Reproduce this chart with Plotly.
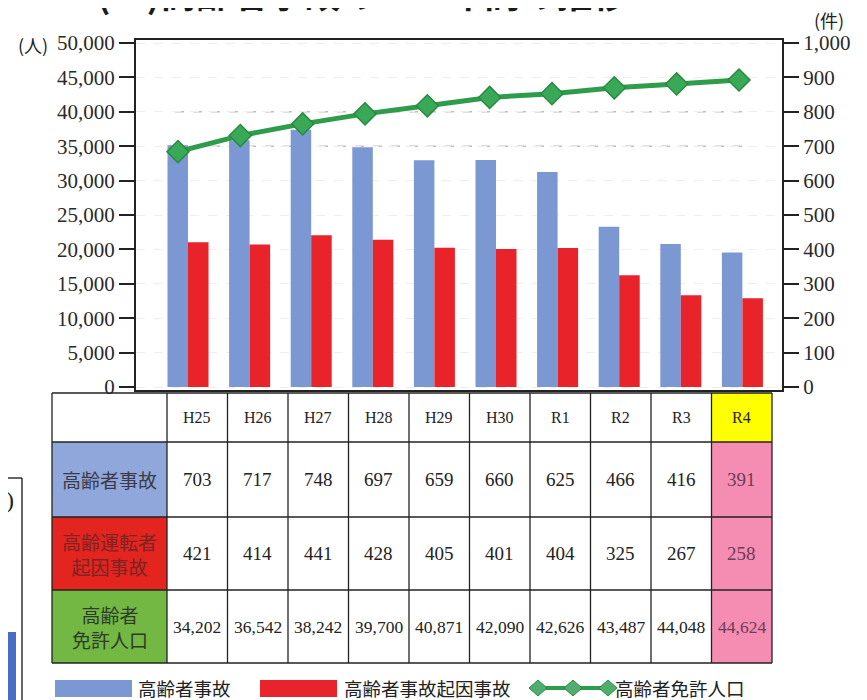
import plotly.graph_objects as go

W, H = 867, 700
BODY = 8  # default page margin around the plot div

years = ['H25', 'H26', 'H27', 'H28', 'H29', 'H30', 'R1', 'R2', 'R3', 'R4']
elderly_accidents = [703, 717, 748, 697, 659, 660, 625, 466, 416, 391]
elderly_driver_accidents = [421, 414, 441, 428, 405, 401, 404, 325, 267, 258]
elderly_licence_pop = [34202, 36542, 38242, 39700, 40871, 42090, 42626, 43487, 44048, 44624]

row_labels = ['高齢者事故', '高齢運転者<br>起因事故', '高齢者<br>免許人口']
legend_labels = ['高齢者事故', '高齢者事故起因事故', '高齢者免許人口']

BLUE_BAR = '#7b98d3'
RED_BAR = '#e8232a'
GREEN_LINE = '#2f9c4b'
CELL_BLUE = '#8fa7da'
CELL_RED = '#e3241f'
CELL_GREEN = '#72b843'
CELL_PINK = '#f58db2'
CELL_YELLOW = '#ffff00'
INK = '#222222'
SERIF = 'Liberation Serif'
SANS_JP = 'Noto Sans CJK JP'


def px(x):
    return (x - BODY) / W


def py(y):
    return 1 - (y - BODY) / H


idx = list(range(len(years)))

fig = go.Figure()
fig.add_trace(go.Bar(x=idx, y=elderly_accidents, marker=dict(color=BLUE_BAR, line=dict(width=0)),
                     name=legend_labels[0], xaxis='x', yaxis='y'))
fig.add_trace(go.Bar(x=idx, y=elderly_driver_accidents, marker=dict(color=RED_BAR, line=dict(width=0)),
                     name=legend_labels[1], xaxis='x', yaxis='y'))
fig.add_trace(go.Scatter(
    x=idx, y=elderly_licence_pop, mode='lines+markers', name=legend_labels[2],
    line=dict(color=GREEN_LINE, width=5),
    marker=dict(symbol='diamond', size=17, color='#3aa957', line=dict(color='#2a8a43', width=1.5)),
    xaxis='x2', yaxis='y2',
))

# plot frame in pixels
L, R, T, B = 136, 782, 40, 390
x_dom = [px(L), px(R)]
y_dom = [py(B), py(T)]

shapes = []
annotations = []


def text(x, y, s, size, color=INK, family=SANS_JP, xanchor='center', **kw):
    annotations.append(dict(x=px(x), y=py(y), xref='paper', yref='paper', text=s, showarrow=False,
                            xanchor=xanchor, yanchor='middle',
                            font=dict(family=family, size=size, color=color, **kw)))


def rect(x0, y0, x1, y1, color):
    shapes.append(dict(type='rect', xref='paper', yref='paper', x0=px(x0), x1=px(x1),
                       y0=py(y1), y1=py(y0), fillcolor=color, line=dict(width=0)))


def hline(x0, x1, y, color=INK, width=1.3):
    shapes.append(dict(type='line', xref='paper', yref='paper', x0=px(x0), x1=px(x1),
                       y0=py(y), y1=py(y), line=dict(color=color, width=width)))


def vline(x, y0, y1, color=INK, width=1.3):
    shapes.append(dict(type='line', xref='paper', yref='paper', x0=px(x), x1=px(x),
                       y0=py(y0), y1=py(y1), line=dict(color=color, width=width)))


# faint dashed reference lines
for v in (40000, 35000):
    shapes.append(dict(type='line', xref='paper', yref='y2', x0=px(175), x1=px(743), y0=v, y1=v,
                       line=dict(color='#c9bcbc', width=1.5, dash='dash'), layer='below'))

# ---- table ----
col_edges = [52, 167] + [167 + (772 - 167) * (i + 1) / 10 for i in range(10)]
row_edges = [393, 442, 517, 590, 663]
row_fill = [CELL_BLUE, CELL_RED, CELL_GREEN]
row_txt = ['#3b3b48', '#7a2424', '#2f3a2a']
row_vals = [elderly_accidents, elderly_driver_accidents, elderly_licence_pop]

for r in range(3):
    rect(col_edges[0], row_edges[r + 1], col_edges[1], row_edges[r + 2], row_fill[r])
    rect(col_edges[-2], row_edges[r + 1], col_edges[-1], row_edges[r + 2], CELL_PINK)
rect(col_edges[-2], row_edges[0], col_edges[-1], row_edges[1], CELL_YELLOW)
for xe in col_edges:
    vline(xe, row_edges[0], row_edges[-1])
for ye in row_edges:
    hline(col_edges[0], col_edges[-1], ye)

for i, yr in enumerate(years):
    cx = (col_edges[i + 1] + col_edges[i + 2]) / 2
    text(cx, (row_edges[0] + row_edges[1]) / 2, yr, 16, family=SERIF)
for r in range(3):
    cy = (row_edges[r + 1] + row_edges[r + 2]) / 2
    text((col_edges[0] + col_edges[1]) / 2, cy, row_labels[r], 19, color=row_txt[r])
    for i, v in enumerate(row_vals[r]):
        cx = (col_edges[i + 1] + col_edges[i + 2]) / 2
        last = i == len(years) - 1
        text(cx, cy, f'{v:,}', 19 if r < 2 else 17.5, color='#6d3c55' if last else INK, family=SERIF)

# ---- custom legend ----
LEG_Y = 688
rect(55, 680, 132, 697, BLUE_BAR)
rect(260, 680, 337, 697, RED_BAR)
hline(533, 612, LEG_Y, color=GREEN_LINE, width=4)
for cx in (538, 573, 608):
    path = (f'M {px(cx - 9)},{py(LEG_Y)} L {px(cx)},{py(LEG_Y - 8)} '
            f'L {px(cx + 9)},{py(LEG_Y)} L {px(cx)},{py(LEG_Y + 8)} Z')
    shapes.append(dict(type='path', xref='paper', yref='paper', path=path,
                       fillcolor='#4fae6e', line=dict(color='#2a8a43', width=1)))
for xl, txt in zip((136, 342, 613), legend_labels):
    text(xl, LEG_Y, txt, 18.5, xanchor='left')

# ---- scan remnants at left edge ----
hline(BODY, 22, 478, color='#333', width=1.5)
vline(22, 478, 710, color='#333', width=1.5)
rect(BODY, 632, 16, 710, '#4a6cc4')
text(10, 500, ')', 24, family=SERIF)

# ---- title and units ----
text(95, -8, '(３)高齢者事故の１０年間の推移', 36, color='#1a1a1a', xanchor='left', weight='bold')
text(8 + BODY, 45, '(人)', 18, xanchor='left')
text(829, 20, '(件)', 18)

px_per_unit = 61.6
x_range = [(L - 188) / px_per_unit, (R - 188) / px_per_unit]
line_step = (739 - 178) / 9
x2_range = [(L - 178) / line_step, (R - 178) / line_step]
left_scale = 50000 / 344
y2_range = [-(390 - 387) * left_scale, 50000 + (43 - 40) * left_scale]
y_range = [v / 50 for v in y2_range]

fig.update_layout(
    width=W, height=H,
    margin=dict(l=0, r=0, t=0, b=0, pad=0, autoexpand=False),
    paper_bgcolor='white', plot_bgcolor='white',
    showlegend=False,
    barmode='group', bargap=0.334, bargroupgap=0,
    shapes=shapes, annotations=annotations,
    xaxis=dict(domain=x_dom, range=x_range, showticklabels=False, ticks='', showgrid=False,
               zeroline=False, showline=True, linecolor=INK, linewidth=2, mirror=True,
               automargin=False),
    xaxis2=dict(overlaying='x', range=x2_range, visible=False, anchor='y2', automargin=False),
    yaxis=dict(domain=y_dom, range=y_range, side='right', anchor='x', automargin=False,
               tickvals=list(range(0, 1001, 100)), tickformat=',',
               ticks='outside', ticklen=15, tickwidth=2, tickcolor=INK,
               showline=True, linecolor=INK, linewidth=2, showgrid=False, zeroline=False,
               tickfont=dict(family=SERIF, size=21, color='#2a2a2a')),
    yaxis2=dict(overlaying='y', range=y2_range, side='left', anchor='x2', automargin=False,
                tickvals=list(range(0, 50001, 5000)), tickformat=',',
                ticks='outside', ticklen=15, tickwidth=2, tickcolor=INK,
                showline=True, linecolor=INK, linewidth=2, zeroline=False,
                showgrid=True, gridcolor='#eeeeee', griddash='dash', gridwidth=1,
                tickfont=dict(family=SERIF, size=21, color='#2a2a2a')),
)

fig.write_html('out.html')
